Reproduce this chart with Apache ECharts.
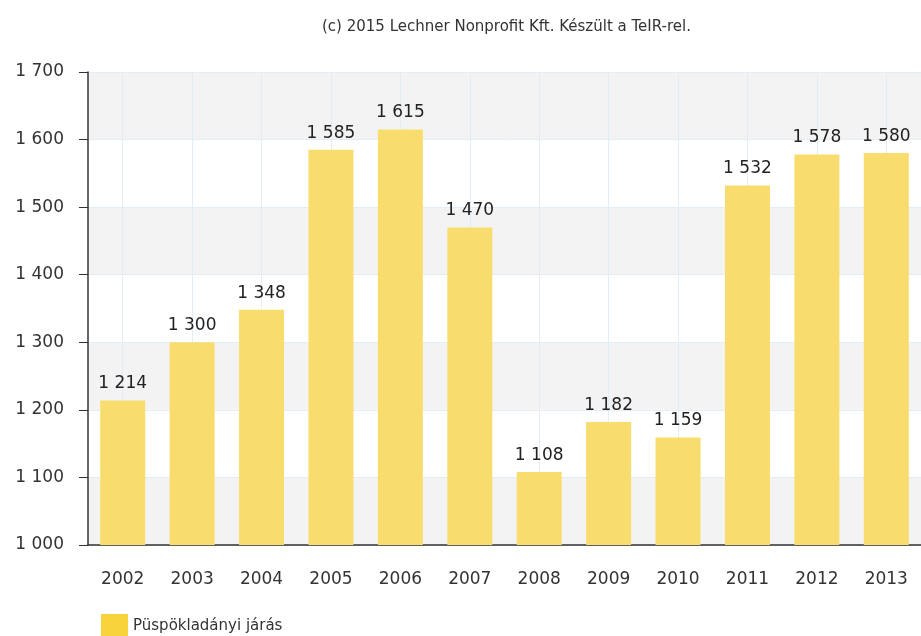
<!DOCTYPE html>
<html>
<head>
<meta charset="utf-8">
<script src="https://cdn.jsdelivr.net/npm/echarts@6/dist/echarts.min.js"></script>
<style>
  html, body { margin: 0; padding: 0; background: #fff; }
  #chart { width: 921px; height: 636px; }
</style>
</head>
<body>
<div id="chart"></div>
<script>
const years = ['2002', '2003', '2004', '2005', '2006', '2007', '2008', '2009', '2010', '2011', '2012', '2013'];
const values = [1214, 1300, 1348, 1585, 1615, 1470, 1108, 1182, 1159, 1532, 1578, 1580];
const seriesName = 'Püspökladányi járás';
const titleText = '(c) 2015 Lechner Nonprofit Kft. Készült a TeIR-rel.';

// szóközös ezres tagolás
function fmt(v) {
  return String(v).replace(/\B(?=(\d{3})+(?!\d))/g, ' ');
}

const chart = echarts.init(document.getElementById('chart'));

const option = {
  animation: false,
  textStyle: { fontFamily: 'DejaVu Sans' },
  title: {
    text: titleText,
    left: 317,
    top: 15,
    textStyle: { fontSize: 15, fontWeight: 'normal', color: '#333' },
  },
  grid: {
    left: 88,
    right: -7,
    top: 72,
    bottom: 91,
  },
  legend: {
    left: 96,
    top: 609,
    itemWidth: 27,
    itemHeight: 24,
    itemGap: 10,
    textStyle: { fontSize: 15, color: '#333' },
    data: [{ name: seriesName, icon: 'rect', itemStyle: { color: '#F7D23A' } }],
  },
  xAxis: {
    type: 'category',
    data: years,
    axisLine: { lineStyle: { color: '#333', width: 1.5 } },
    axisTick: { alignWithLabel: true, length: 7, lineStyle: { color: '#333' } },
    axisLabel: { fontSize: 17, color: '#333', margin: 26 },
    splitLine: { show: true, alignWithLabel: true, lineStyle: { color: '#e3edf5' } },
  },
  yAxis: {
    type: 'value',
    min: 1000,
    max: 1700,
    interval: 100,
    axisLine: { show: true, lineStyle: { color: '#333', width: 1.5 } },
    axisTick: { show: true, length: 9, lineStyle: { color: '#333' } },
    axisLabel: { fontSize: 17, color: '#333', margin: 24, formatter: fmt },
    splitLine: { show: true, lineStyle: { color: '#e3edf5' } },
    splitArea: { show: true, areaStyle: { color: ['#f3f3f3', '#ffffff'] } },
  },
  series: [{
    name: seriesName,
    type: 'bar',
    data: values,
    barWidth: 45,
    itemStyle: { color: '#F8DD6E' },
    label: {
      show: true,
      position: 'top',
      distance: 8,
      fontSize: 17,
      color: '#222',
      formatter: (p) => fmt(p.value),
    },
  }],
};

chart.setOption(option);
</script>
</body>
</html>
